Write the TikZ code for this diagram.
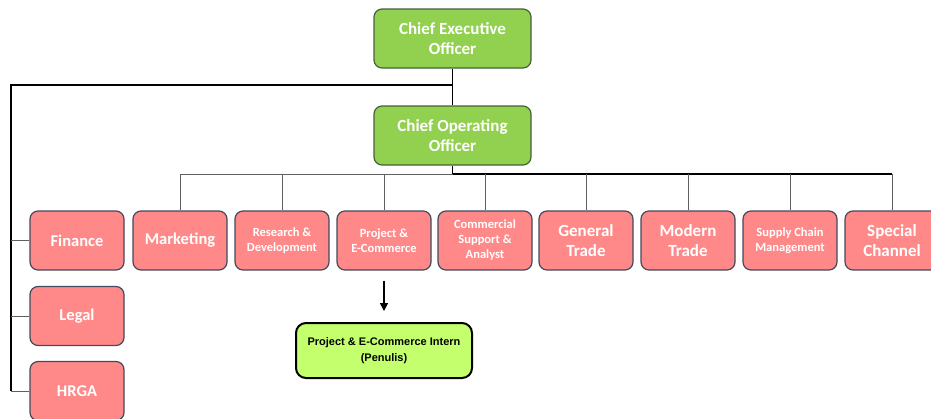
\documentclass[tikz,border=0pt]{standalone}
\usepackage{fontspec}
\setmainfont{Carlito}
\newfontfamily\arialfont{Liberation Sans}
\usetikzlibrary{arrows.meta}
\definecolor{chiefgreen}{HTML}{92D050}
\definecolor{chiefedge}{HTML}{46603A}
\definecolor{deptpink}{HTML}{FF8989}
\definecolor{deptedge}{HTML}{424A5E}
\definecolor{interngreen}{HTML}{C4FF6E}
\definecolor{busgray}{HTML}{606060}
\tikzset{
  chief/.style={draw=chiefedge, line width=1.2pt, fill=chiefgreen, rounded corners=8pt,
    minimum width=157pt, minimum height=59pt, align=center, text=white,
    font=\bfseries\fontsize{17}{20}\selectfont},
  dept/.style={draw=deptedge, line width=1.2pt, fill=deptpink, rounded corners=8pt,
    minimum width=94pt, minimum height=59pt, align=center, text=white,
    font=\bfseries\fontsize{17}{20.5}\selectfont},
  deptsmall/.style={dept, font=\bfseries\fontsize{12.5}{15}\selectfont},
  intern/.style={draw=black, line width=2pt, fill=interngreen, rounded corners=10pt,
    minimum width=176pt, minimum height=55pt, align=center,
    font=\arialfont\bfseries\fontsize{11}{16}\selectfont},
  bossline/.style={black, line width=1.6pt},
  busline/.style={busgray, line width=0.9pt}
}
\begin{document}
\begin{tikzpicture}[x=1pt, y=-1pt]
  \useasboundingbox (0,0) rectangle (931,418);
  % top of the chart
  \node[chief] (CEO) at (452.5,38.5) {Chief Executive\\Officer};
  \node[chief] (COO) at (452.5,135.5) {Chief Operating\\Officer};
  % departments
  \node[dept] (Finance) at (77,240.5) {\fontsize{16.5}{20}\selectfont Finance};
  \node[dept] (Legal) at (77,316) {\fontsize{16.5}{20}\selectfont Legal};
  \node[dept] (HRGA) at (77,391) {\fontsize{16.5}{20}\selectfont HRGA};
  \node[dept] (Marketing) at (180,240.5) {\fontsize{16.5}{20}\selectfont Marketing};
  \node[deptsmall] (RnD) at (282,240.5) {Research \&\\Development};
  \node[deptsmall] (Project) at (384,240.5) {Project \&\\E-Commerce};
  \node[deptsmall] (Commercial) at (485,240.5) {Commercial\\Support \&\\Analyst};
  \node[dept] (General) at (586,240.5) {General\\Trade};
  \node[dept] (Modern) at (688,240.5) {Modern\\Trade};
  \node[deptsmall] (Supply) at (790,240.5) {Supply Chain\\Management};
  \node[dept] (Special) at (892,240.5) {Special\\Channel};
  \node[intern] (Intern) at (384,350.5) {Project \& E-Commerce Intern\\(Penulis)};
  % connectors
  \coordinate (leftbus) at (11,85);
  \coordinate (bus) at (0,174);
  \draw[bossline] (CEO.south) -- (COO.north);
  \draw[bossline] (CEO.south |- leftbus) -- (leftbus) -- (leftbus |- HRGA.west);
  \draw[busline] (leftbus |- Finance.west) -- (Finance.west);
  \draw[busline] (leftbus |- Legal.west) -- (Legal.west);
  \draw[busline] (leftbus |- HRGA.west) -- (HRGA.west);
  \draw[bossline] (COO.south) -- (COO.south |- bus);
  \draw[busline] (Marketing.north |- bus) -- (Special.north |- bus);
  \draw[bossline, line width=1.2pt] (COO.south |- bus) -- (Special.north |- bus);
  \foreach \d in {Marketing, RnD, Project, Commercial, General, Modern, Supply, Special}
    \draw[busline] (\d.north |- bus) -- (\d.north);
  \draw[bossline, -{Triangle[length=8pt, width=8pt]}, shorten <=10pt, shorten >=11pt]
    (Project.south) -- (Intern.north);
\end{tikzpicture}
\end{document}
